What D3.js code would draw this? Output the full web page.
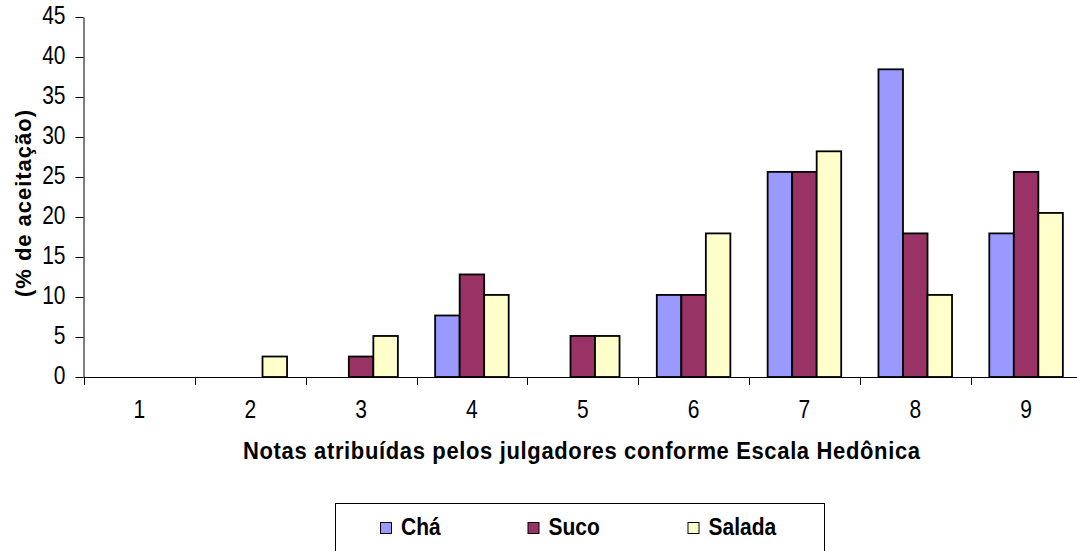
<!DOCTYPE html>
<html><head><meta charset="utf-8">
<script src="https://cdn.jsdelivr.net/npm/d3@7"></script>
<style>body{margin:0;background:#fff}svg{display:block;font-family:"Liberation Sans",Arial,sans-serif}</style>
</head><body>
<svg id="c" width="1077" height="551"></svg>
<script>
const categories = ["1","2","3","4","5","6","7","8","9"];
const seriesNames = ["Chá","Suco","Salada"];
const cha    = [0, 0, 0, 7.69, 0, 10.26, 25.64, 38.46, 17.95];
const suco   = [0, 0, 2.56, 12.82, 5.13, 10.26, 25.64, 17.95, 25.64];
const salada = [0, 2.56, 5.13, 10.26, 5.13, 17.95, 28.21, 10.26, 20.51];
const yTicks = [0,5,10,15,20,25,30,35,40,45];
const colors = ["#9999FF","#993366","#FFFFCC"];
const values = [cha, suco, salada];

const svg = d3.select("#c");
const x0 = d3.scaleBand().domain(categories).range([84, 1081.5]).paddingInner(0).paddingOuter(0);
const x1 = d3.scaleBand().domain(seriesNames).range([0, x0.bandwidth()]).paddingOuter(0.76).paddingInner(0);
const y = d3.scaleLinear().domain([0,45]).range([377,17]);

// bars
categories.forEach((c,i)=>{
  seriesNames.forEach((s,j)=>{
    const v = values[j][i];
    if (v <= 0) return;
    svg.append("rect")
      .attr("x", x0(c)+x1(s))
      .attr("y", y(v))
      .attr("width", x1.bandwidth())
      .attr("height", y(0)-y(v))
      .attr("fill", colors[j])
      .attr("stroke", "#000")
      .attr("stroke-width", 1.8);
  });
});

// y axis
const yAxis = d3.axisLeft(y).tickValues(yTicks).tickSize(8).tickSizeOuter(0).tickPadding(10);
const gy = svg.append("g").attr("transform","translate(83.5,0)").call(yAxis);
gy.selectAll("text").attr("font-size", 21).attr("fill","#000")
  .attr("font-family","Liberation Sans, Arial, sans-serif")
  .attr("dy","0.27em").attr("transform","scale(1,1.22)");
gy.selectAll("line,path").attr("stroke","#000");

// x axis line
svg.append("line").attr("x1",83.5).attr("x2",1077).attr("y1",377.5).attr("y2",377.5).attr("stroke","#000");
// category boundary ticks
const bounds = categories.map(c=>x0(c)).concat([x0.range()[1]]);
svg.selectAll(".bt").data(bounds).enter().append("line")
  .attr("x1",d=>Math.round(d)+0.5).attr("x2",d=>Math.round(d)+0.5)
  .attr("y1",377.5).attr("y2",385).attr("stroke","#000");
// category labels
svg.selectAll(".cl").data(categories).enter().append("text")
  .attr("transform",d=>`translate(${x0(d)+x0.bandwidth()/2},418) scale(1,1.22)`)
  .attr("text-anchor","middle").attr("font-size",21).text(d=>d);

// axis titles
svg.append("text").attr("transform","translate(243,459) scale(1,1.08)")
  .attr("font-size",22).attr("font-weight","bold")
  .attr("textLength",677).attr("lengthAdjust","spacing")
  .text("Notas atribuídas pelos julgadores conforme Escala Hedônica");
svg.append("text").attr("transform","translate(31,297) rotate(-90)")
  .attr("font-size",22).attr("font-weight","bold")
  .attr("textLength",187).attr("lengthAdjust","spacing")
  .text("(% de aceitação)");

// legend
svg.append("rect").attr("x",335.5).attr("y",503.5).attr("width",489).attr("height",60)
  .attr("fill","#fff").attr("stroke","#000").attr("stroke-width",1);
const legX = [380, 527.5, 687.5];
seriesNames.forEach((s,j)=>{
  svg.append("rect").attr("x",legX[j]+0.5).attr("y",522.5).attr("width",11).attr("height",11)
    .attr("fill",colors[j]).attr("stroke","#000").attr("stroke-width",1);
  svg.append("text").attr("transform",`translate(${legX[j]+21},535) scale(1,1.13)`)
    .attr("font-size",21).attr("font-weight","bold").text(s);
});
</script>
</body></html>
